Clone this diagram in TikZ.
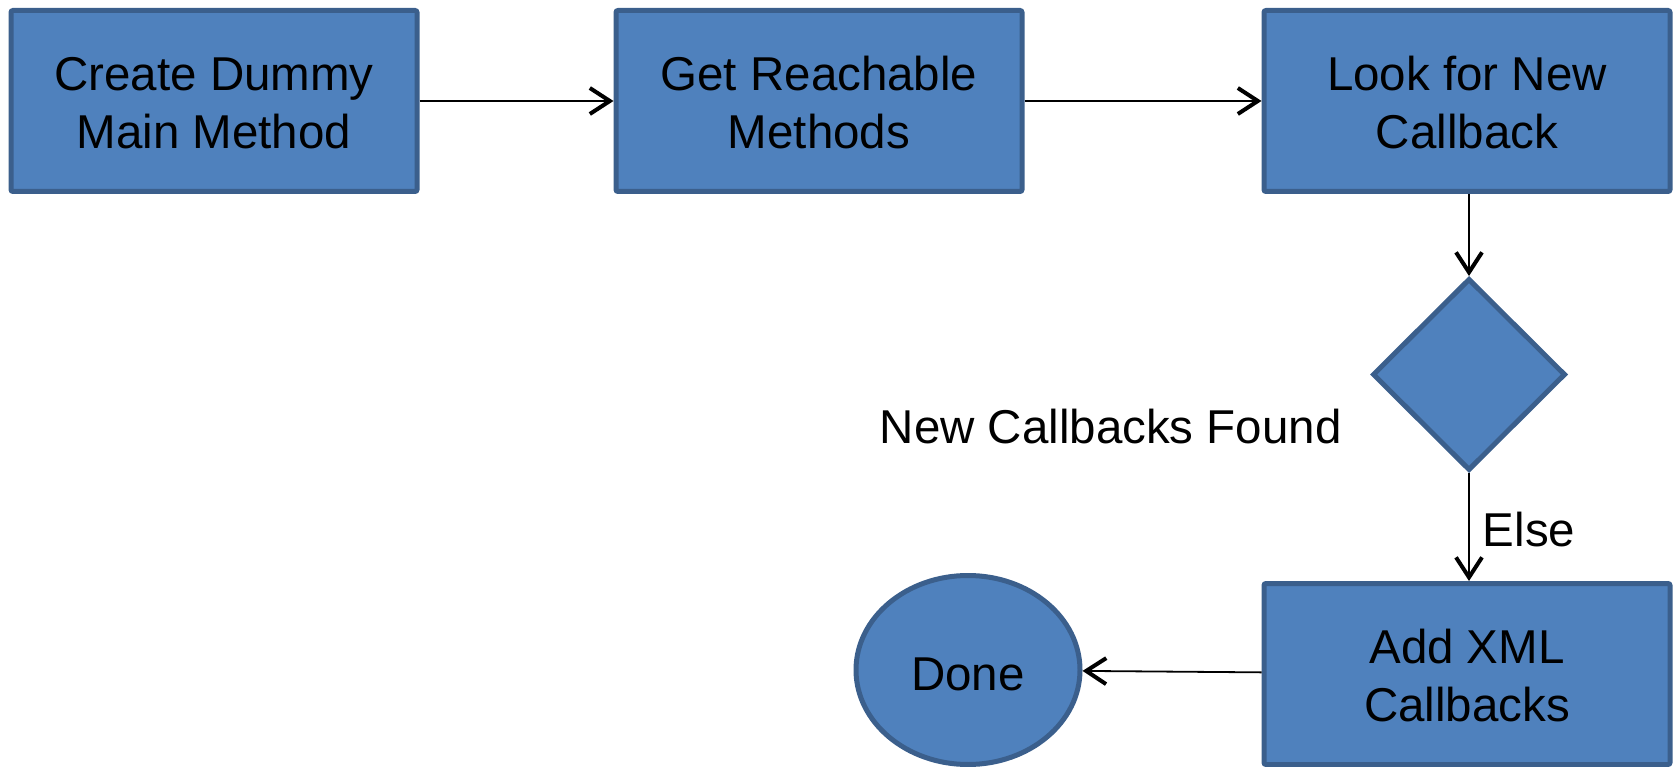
\documentclass[tikz,border=0pt]{standalone}
\usepackage{fontspec}
\setmainfont{Liberation Sans}
\usetikzlibrary{shapes.geometric,arrows.meta}
\definecolor{boxfill}{HTML}{4F81BD}
\definecolor{boxline}{HTML}{3B5F8C}
\begin{document}
\begin{tikzpicture}[x=1pt,y=-1pt,
  every node/.style={font=\fontsize{47.5}{57.6}\selectfont},
  procbox/.style={rectangle,draw=boxline,fill=boxfill,line width=5pt,rounded corners=2pt,
    minimum width=406pt,minimum height=181pt,align=center,inner sep=0pt,text height=95pt},
  decbox/.style={diamond,draw=boxline,fill=boxfill,line width=5pt,
    minimum width=193pt,minimum height=192pt,inner sep=0pt},
  endbox/.style={ellipse,draw=boxline,fill=boxfill,line width=5pt,
    minimum width=224pt,minimum height=189pt,inner sep=0pt,text height=42pt},
  conn/.style={line width=1.8pt,-{Straight Barb[length=20pt,width=26pt,line width=4pt]}},
  lbl/.style={inner sep=0pt}]
\useasboundingbox (0,0) rectangle (1673,767);
\node[procbox] (b1) at (214,101) {Create Dummy\\Main Method};
\node[procbox] (b2) at (819,101) {Get Reachable\\Methods};
\node[procbox] (b3) at (1467,101) {Look for New\\Callback};
\node[decbox] (d) at (1469,374.5) {};
\node[procbox] (b4) at (1467,674) {Add XML\\Callbacks};
\node[endbox] (done) at (968,670) {Done};
\node[lbl] (lnew) at (1110.7,427) {New Callbacks Found};
\node[lbl] (lelse) at (1529,530) {Else};
\draw[conn] (b1) -- (b2);
\draw[conn] (b2) -- (b3);
\draw[conn] (b3.south -| d.north) -- (d.north);
\draw[conn] (d.south) -- (d.south |- b4.north);
\draw[conn] (b4) -- (done);
\end{tikzpicture}
\end{document}
